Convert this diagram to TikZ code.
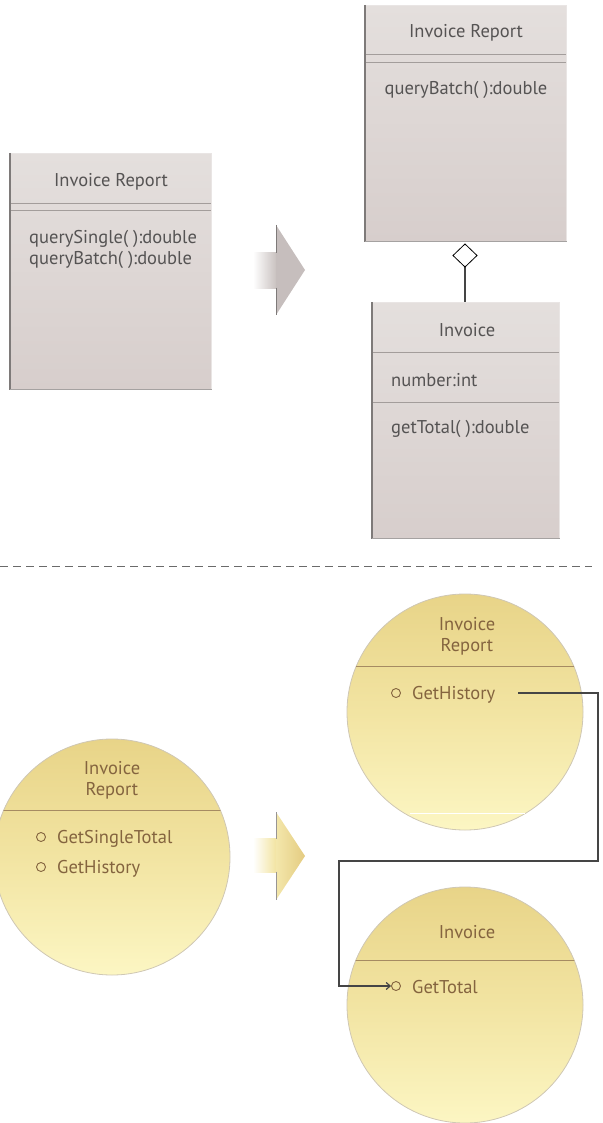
\documentclass[tikz,border=0pt]{standalone}
\usepackage{fontspec}
\setmainfont{PT Sans}
\usetikzlibrary{arrows.meta}

\definecolor{boxtop}{HTML}{E4DFDD}
\definecolor{boxbot}{HTML}{D7CECC}
\definecolor{boxtext}{HTML}{555353}
\definecolor{boxrule}{HTML}{A39D9B}
\definecolor{boxedge}{HTML}{7E7A79}
\definecolor{objtop}{HTML}{E8D488}
\definecolor{objmid}{HTML}{F2E4A2}
\definecolor{objbot}{HTML}{FCF6C3}
\definecolor{objtext}{HTML}{84643F}
\definecolor{objrule}{HTML}{A68B62}
\definecolor{objedge}{HTML}{CFC7B4}
\definecolor{wire}{HTML}{454545}

\tikzset{
  umlbox/.style={rectangle, draw=boxtop!80!white, line width=0.6pt,
    top color=boxtop, bottom color=boxbot, inner sep=0pt},
  boxline/.style={draw=boxrule, line width=0.9pt},
  boxside/.style={draw=boxedge, line width=1.1pt},
  boxlabel/.style={text=boxtext, font=\fontsize{18.5}{21}\selectfont, inner sep=0pt},
  objcircle/.style={circle, draw=objedge, line width=0.8pt,
    top color=objtop, bottom color=objbot, middle color=objmid, inner sep=0pt,
    minimum size=236pt},
  objline/.style={draw=objrule, line width=1pt},
  objlabel/.style={text=objtext, font=\fontsize{18.5}{21}\selectfont, inner sep=0pt},
  bullet/.style={circle, draw=objtext, line width=0.9pt, minimum size=9pt, inner sep=0pt},
  wireline/.style={draw=wire, line width=1.1pt},
  diamondtip/.style={draw=black, fill=white, line width=0.8pt},
}

\begin{document}
\begin{tikzpicture}[x=1pt,y=-1pt]
\useasboundingbox (0,0) rectangle (602,1123);

% ---------- class diagram, before ----------
\node[umlbox, minimum width=201pt, minimum height=236pt, anchor=north west] (rep1) at (10,153) {};
\draw[boxline] (10,203) -- (211,203);
\draw[boxline] (10,210.5) -- (211,210.5);
\draw[boxside] (rep1.north west) -- (rep1.south west);
\draw[draw=boxedge!70!white, line width=0.8pt] (rep1.south west) -- (rep1.south east);
\node[boxlabel] (rep1title) at (111,182) {Invoice Report};
\node[boxlabel, anchor=west] (rep1m1) at (29,239) {querySingle( ):double};
\node[boxlabel, anchor=west] (rep1m2) at (29,260) {queryBatch( ):double};

% gray transformation arrow
\shade[left color=white, right color=boxbot!85!gray] (253,252) rectangle (276,288);
\fill[boxbot!80!gray] (276,225) -- (305,270) -- (276,315) -- cycle;
\draw[draw=boxedge, line width=1pt] (276,225) -- (276,252.5);
\draw[draw=boxedge, line width=1pt] (276,287.5) -- (276,315);

% ---------- class diagram, after ----------
\node[umlbox, minimum width=201pt, minimum height=236pt, anchor=north west] (rep2) at (365,5) {};
\draw[boxline] (365,54) -- (566,54);
\draw[boxline] (365,62) -- (566,62);
\draw[boxside] (rep2.north west) -- (rep2.south west);
\draw[draw=boxedge!70!white, line width=0.8pt] (rep2.south west) -- (rep2.south east);
\node[boxlabel] (rep2title) at (466,33) {Invoice Report};
\node[boxlabel] (rep2m1) at (466,90) {queryBatch( ):double};

\node[umlbox, minimum width=187pt, minimum height=236pt, anchor=north west] (inv) at (372,302) {};
\draw[boxline] (372,352) -- (559,352);
\draw[boxline] (372,402) -- (559,402);
\draw[boxside] (inv.north west) -- (inv.south west);
\draw[draw=boxedge!70!white, line width=0.8pt] (inv.south west) -- (inv.south east);
\node[boxlabel] (invtitle) at (467,330) {Invoice};
\node[boxlabel, anchor=west] (invattr) at (391,380) {number:int};
\node[boxlabel, anchor=west] (invop) at (391,429) {getTotal( ):double};

% aggregation
\draw[line width=1.1pt, draw=wire] (465,267) -- (inv.north -| 465,0);
\draw[diamondtip] (465,244) -- (477,255.5) -- (465,267) -- (453,255.5) -- cycle;

% ---------- separator ----------
\draw[draw=wire!80!white, line width=1pt, dash pattern=on 8pt off 5pt] (0,566) -- (592,566);

% ---------- object view, before ----------
\node[objcircle] (obj1) at (112,857) {};
\begin{scope}
  \clip (112,857) circle (118);
  \draw[objline] (-10,810) -- (240,810);
\end{scope}
\node[objlabel, align=center] (obj1title) at (112,780) {Invoice\\Report};
\node[bullet] (b1) at (41,837) {};
\node[objlabel, anchor=west] (obj1m1) at (57,838.5) {GetSingleTotal};
\node[bullet] (b2) at (41,867) {};
\node[objlabel, anchor=west] (obj1m2) at (57,868.5) {GetHistory};

% yellow transformation arrow
\shade[left color=white, right color=objmid] (253,838) rectangle (276,872);
\shade[left color=objmid!90!white, right color=objtop!90!brown] (276,812) -- (305,856) -- (276,900) -- cycle;
\draw[draw=boxedge!80!white, line width=1pt] (276,812) -- (276,838.5);
\draw[draw=boxedge!80!white, line width=1pt] (276,871.5) -- (276,900);

% ---------- object view, after ----------
\node[objcircle] (obj2) at (465,712) {};
\begin{scope}
  \clip (465,712) circle (118);
  \draw[objline] (340,666) -- (590,666);
  \draw[white, line width=0.9pt] (410,813) -- (525,813);
\end{scope}
\node[objlabel, align=center] (obj2title) at (467,636) {Invoice\\Report};
\node[bullet] (b3) at (396,693) {};
\node[objlabel, anchor=west] (obj2m1) at (412,694.5) {GetHistory};

\node[objcircle] (obj3) at (465,1005) {};
\begin{scope}
  \clip (465,1005) circle (118);
  \draw[objline] (340,960) -- (590,960);
\end{scope}
\node[objlabel] (obj3title) at (467,932) {Invoice};
\node[bullet] (b4) at (396,986) {};
\node[objlabel, anchor=west] (obj3m1) at (412,987.5) {GetTotal};

% message link from GetHistory to GetTotal
\coordinate (hstart) at (518,693);
\coordinate (r1) at (598,693);
\coordinate (r2) at (598,861);
\coordinate (r3) at (339,861);
\coordinate (r4) at (339,986);
\draw[wireline, -{Straight Barb[length=4pt, width=7pt, line width=1.2pt]}]
  (hstart) -- (r1) -- (r2) -- (r3) -- (r4) -- (b4.west);
\end{tikzpicture}
\end{document}
